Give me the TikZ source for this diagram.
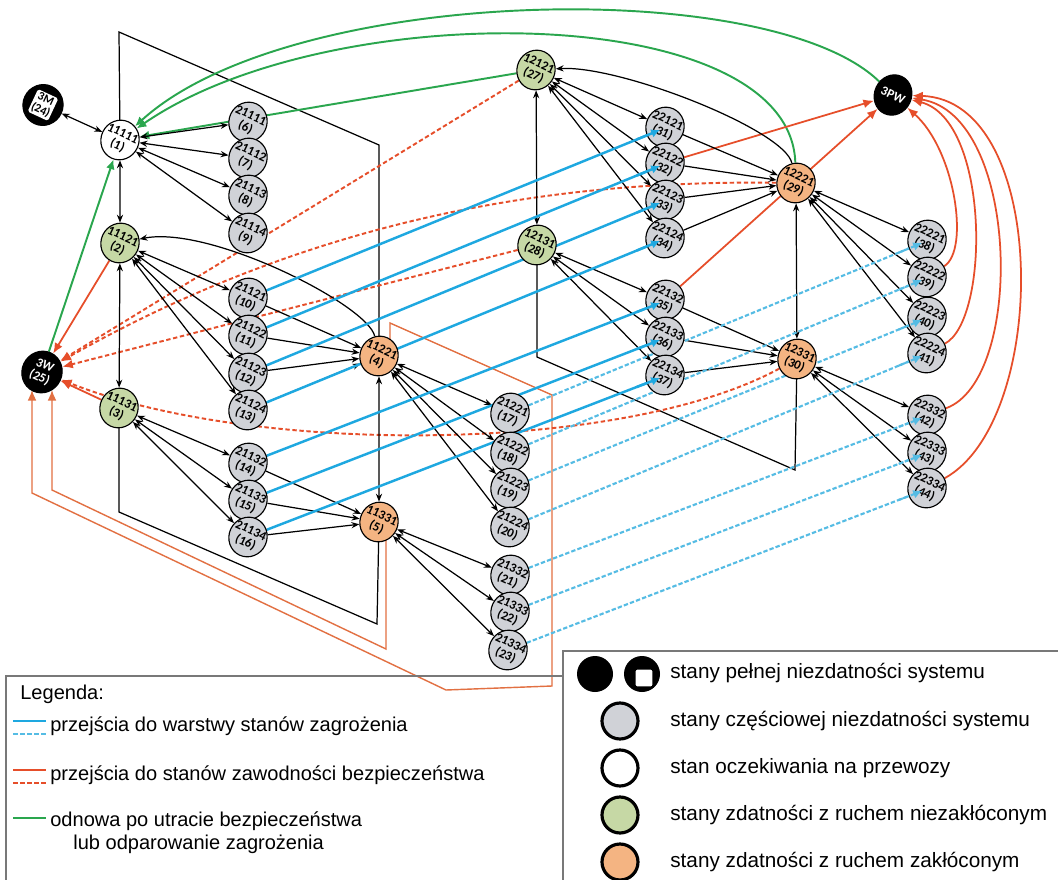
\documentclass[tikz,border=0pt]{standalone}
\usepackage{fontspec}
\setmainfont{Liberation Sans}
\newfontfamily\carl{Carlito}
\usetikzlibrary{shapes.geometric,arrows.meta,calc}
\pgfdeclarelayer{bg}
\pgfsetlayers{bg,main}
\definecolor{cgray}{RGB}{208,210,215}
\definecolor{cgreen}{RGB}{198,216,165}
\definecolor{corange}{RGB}{244,180,130}
\definecolor{cblue}{RGB}{30,168,224}
\definecolor{cblued}{RGB}{85,188,228}
\definecolor{cred}{RGB}{230,78,42}
\definecolor{cplane}{RGB}{226,112,66}
\definecolor{cgrn}{RGB}{42,166,78}
\definecolor{cframe}{RGB}{120,120,120}
\begin{document}
\begin{tikzpicture}[x=0.02cm,y=0.02cm,
 st/.style={ellipse, draw=black, line width=0.65pt, minimum width=0.76cm, minimum height=0.8cm, inner sep=-3pt, rotate=-25, font=\carl\bfseries\fontsize{7.3}{7.4}\selectfont, align=center},
 sg/.style={st, fill=cgray},
 sw/.style={st, fill=white},
 sgr/.style={st, fill=cgreen},
 so/.style={st, fill=corange},
 sb/.style={st, fill=black, text=white},
 bk/.style={line width=0.7pt, black},
 ba/.style={bk, {Stealth[length=4.5pt,width=3.5pt]}-{Stealth[length=4.5pt,width=3.5pt]}},
 bs/.style={bk, -{Stealth[length=4.5pt,width=3.5pt]}},
 plane/.style={line width=0.7pt, black},
 oplane/.style={line width=0.8pt, cplane, -{Latex[length=6pt,width=5pt]}},
 rs/.style={line width=1pt, cred, -{Latex[length=6pt,width=5pt]}},
 rd/.style={line width=1.1pt, cred, dash pattern=on 2.5pt off 1.5pt, -{Latex[length=6pt,width=5pt]}},
 gs/.style={line width=1.1pt, cgrn, -{Latex[length=5.5pt,width=5pt]}},
 bls/.style={line width=1.4pt, cblue},
 bld/.style={line width=1.2pt, cblued, dash pattern=on 2.5pt off 1.2pt},
 bltip/.style={-{Latex[length=5pt,width=5pt]}},
 legtxt/.style={anchor=west, inner sep=0pt, font=\fontsize{11.4}{13}\selectfont},
 legtxtr/.style={anchor=west, inner sep=0pt, font=\fontsize{11.8}{13}\selectfont},
]
\useasboundingbox (0,0) rectangle (1058,-879);

% ---- layer 1 nodes
\node[sw]  (n1) at (120,-140) {11111\\(1)};
\node[sgr] (n2) at (120,-243) {11121\\(2)};
\node[sgr] (n3) at (119,-408) {11131\\(3)};
\node[so]  (n4) at (379,-356) {11221\\(4)};
\node[so]  (n5) at (379,-522) {11331\\(5)};
\node[sg] (n6) at (248,-122) {21111\\(6)};
\node[sg] (n7) at (248,-158) {21112\\(7)};
\node[sg] (n8) at (248,-195) {21113\\(8)};
\node[sg] (n9) at (248,-233) {21114\\(9)};
\node[sg] (n10) at (248,-298) {21121\\(10)};
\node[sg] (n11) at (248,-335) {21122\\(11)};
\node[sg] (n12) at (248,-373) {21123\\(12)};
\node[sg] (n13) at (248,-410) {21124\\(13)};
\node[sg] (n14) at (248,-463) {21132\\(14)};
\node[sg] (n15) at (248,-500) {21133\\(15)};
\node[sg] (n16) at (248,-537) {21134\\(16)};
\node[sg] (n17) at (510,-413) {21221\\(17)};
\node[sg] (n18) at (510,-452) {21222\\(18)};
\node[sg] (n19) at (510,-488) {21223\\(19)};
\node[sg] (n20) at (510,-527) {21224\\(20)};
\node[sg] (n21) at (510,-575) {21332\\(21)};
\node[sg] (n22) at (510,-612) {21333\\(22)};
\node[sg] (n23) at (508,-650) {21334\\(23)};
% ---- absorbing states
\node[sb, minimum width=0.8cm, minimum height=0.82cm] (n24) at (43,-105) {};
\node[rotate=-25, fill=white, rounded corners=1pt, inner sep=0.8pt, text=black, align=center, font=\carl\bfseries\fontsize{6.8}{7}\selectfont] (n24t) at (n24.center) {3M\\(24)};
\node[sb, minimum width=0.8cm, minimum height=0.84cm] (n25) at (42,-372) {3W\\(25)};
\node[sb, minimum width=0.74cm, minimum height=0.82cm] (pw) at (893,-95) {3PW};
% ---- layer 2 nodes
\node[sgr] (n27) at (536,-70) {12121\\(27)};
\node[sgr] (n28) at (537,-245) {12131\\(28)};
\node[so]  (n29) at (796,-183) {12221\\(29)};
\node[so]  (n30) at (797,-359) {12331\\(30)};
\node[sg] (n31) at (665,-127) {22121\\(31)};
\node[sg] (n32) at (665,-163) {22122\\(32)};
\node[sg] (n33) at (665,-200) {22123\\(33)};
\node[sg] (n34) at (665,-238) {22124\\(34)};
\node[sg] (n35) at (665,-300) {22132\\(35)};
\node[sg] (n36) at (665,-337) {22133\\(36)};
\node[sg] (n37) at (665,-375) {22134\\(37)};
\node[sg] (n38) at (927,-240) {22221\\(38)};
\node[sg] (n39) at (927,-277) {22222\\(39)};
\node[sg] (n40) at (927,-317) {22223\\(40)};
\node[sg] (n41) at (927,-353) {22224\\(41)};
\node[sg] (n42) at (927,-415) {22332\\(42)};
\node[sg] (n43) at (927,-452) {22333\\(43)};
\node[sg] (n44) at (927,-488) {22334\\(44)};

\begin{pgfonlayer}{bg}
\fill[white] (0,0) rectangle (1058,-879);
% planes
\draw[plane] (n1.center) -- (119,-32) -- (379,-145) -- (n4.center);
\draw[plane] (n3.center) -- (119,-512) -- (377,-624) -- (n5.center);
\draw[plane] (n28.center) -- (537,-357) -- (795,-470) -- (n30.center);
% orange frame transitions to 3W
\draw[oplane] ($(n4)+(11,6)$) -- (390,-323) -- (552,-395) -- (552,-686) -- (446,-690) -- (32,-493) -- ($(n25)+(-10,-18)$);
\draw[oplane] ($(n5)+(7,-10)$) -- (386,-649) -- (52,-490) -- ($(n25)+(10,-18)$);
% green
\draw[gs] (pw) .. controls (770,25) and (290,15) .. (n1);
\draw[gs] (n29) .. controls (790,0) and (330,5) .. (n1);
\draw[gs] (n27) -- (n1);
\draw[gs] (n25) -- (n1);
% red solid
\draw[rs] (n2) -- (n25);
\draw[rs] (n3) -- (n25);
\draw[rs] (n32) -- (pw);
\draw[rs] (n35) -- (pw);
\draw[rs] (n39) .. controls (970,-250) and (955,-150) .. (pw);
\draw[rs] (n41) .. controls (990,-320) and (990,-120) .. (pw);
\draw[rs] (n42) .. controls (1025,-380) and (1020,-115) .. (pw);
\draw[rs] (n44) .. controls (1050,-420) and (1050,-100) .. (pw);
% red dashed
\draw[rd] (n27) -- (n25);
\draw[rd] (n29) .. controls (560,-180) and (320,-215) .. (n25);
\draw[rd] (n28) -- (n25);
\draw[rd] (n30) .. controls (620,-455) and (250,-455) .. (n25);
% black
\draw[ba] (n24) -- (n1);
\foreach \jj in {6,7,8,9} \draw[ba] (n1) -- (n\jj);
\draw[ba] (n1) -- (n2);
\draw[ba] (n2) -- (n3);
\foreach \jj in {10,...,13} \draw[ba] (n2) -- (n\jj);
\foreach \jj in {14,15,16} \draw[ba] (n3) -- (n\jj);
\foreach \ii in {10,...,13} \draw[bs] (n\ii) -- (n4);
\foreach \ii in {14,15,16} \draw[bs] (n\ii) -- (n5);
\draw[bs] (n4) .. controls (368,-305) and (210,-225) .. (n2);
\draw[ba] (n4) -- (n5);
\foreach \jj in {17,...,20} \draw[ba] (n4) -- (n\jj);
\foreach \jj in {21,22,23} \draw[ba] (n5) -- (n\jj);
\draw[ba] (n27) -- (n28);
\foreach \jj in {31,...,34} \draw[ba] (n27) -- (n\jj);
\foreach \jj in {35,36,37} \draw[ba] (n28) -- (n\jj);
\foreach \ii in {31,...,34} \draw[bs] (n\ii) -- (n29);
\foreach \ii in {35,36,37} \draw[bs] (n\ii) -- (n30);
\draw[bs] (n29) .. controls (785,-130) and (620,-65) .. (n27);
\draw[ba] (n29) -- (n30);
\foreach \jj in {38,...,41} \draw[ba] (n29) -- (n\jj);
\foreach \jj in {42,43,44} \draw[ba] (n30) -- (n\jj);
% blue (behind)
\foreach \ii/\jj in {10/31,11/32,12/33,13/34,14/35,15/36,16/37} {
  \coordinate (t\jj) at ($(n\jj)+(-5,-3)$);
  \draw[bls] (n\ii) -- (t\jj);
}
\foreach \ii/\jj in {17/38,18/39,19/40,20/41,21/42,22/43,23/44} {
  \coordinate (t\jj) at ($(n\jj)+(-5,-3)$);
  \draw[bld] (n\ii) -- (t\jj);
}
\end{pgfonlayer}
% blue arrow tips on top of target nodes
\foreach \ii/\jj in {10/31,11/32,12/33,13/34,14/35,15/36,16/37}
  \draw[bls,bltip] ($(t\jj)!0.5cm!(n\ii)$) -- (t\jj);
\foreach \ii/\jj in {17/38,18/39,19/40,20/41,21/42,22/43,23/44}
  \draw[bld,bltip] ($(t\jj)!0.5cm!(n\ii)$) -- (t\jj);

% ---- legend left
\draw[cframe, line width=0.9pt] (6,-900) -- (6,-676) -- (563,-676);
\node[legtxt] (lg) at (20,-694) {Legenda:};
\draw[cblue, line width=1.6pt] (13,-721) -- (46,-721);
\draw[cblued, line width=1.6pt, dash pattern=on 2.6pt off 1.4pt] (13,-734) -- (46,-734);
\node[legtxt] (l1) at (50,-726) {przejścia do warstwy stanów zagrożenia};
\draw[cred, line width=1.6pt] (13,-770) -- (46,-770);
\draw[cred, line width=1.6pt, dash pattern=on 2.6pt off 1.4pt] (13,-783) -- (46,-783);
\node[legtxt] (l2) at (50,-775) {przejścia do stanów zawodności bezpieczeństwa};
\draw[cgrn, line width=1.6pt] (13,-818) -- (46,-818);
\node[legtxt] (l3) at (50,-821) {odnowa po utracie bezpieczeństwa};
\node[legtxt] (l4) at (73,-844) {lub odparowanie zagrożenia};
% ---- legend right
\draw[cframe, line width=0.9pt, fill=white] (563,-900) -- (563,-651) -- (1100,-651) -- (1100,-900);
\fill[black] (595,-674) circle (18);
\fill[black] (642,-674) circle (18);
\node[draw=black, line width=1.2pt, fill=white, minimum size=0.38cm, rounded corners=1.5pt, inner sep=0pt] (sq) at (644,-678) {};
\draw[line width=1.8pt, fill=cgray] (620,-721) circle (18);
\draw[line width=1.8pt, fill=white] (620,-768) circle (18);
\draw[line width=1.8pt, fill=cgreen] (620,-815) circle (18);
\draw[line width=1.8pt, fill=corange] (620,-862) circle (18);
\node[legtxtr] (r1) at (670,-673) {stany pełnej niezdatności systemu};
\node[legtxtr] (r2) at (670,-721) {stany częściowej niezdatności systemu};
\node[legtxtr] (r3) at (670,-768) {stan oczekiwania na przewozy};
\node[legtxtr] (r4) at (670,-815) {stany zdatności z ruchem niezakłóconym};
\node[legtxtr] (r5) at (670,-862) {stany zdatności z ruchem zakłóconym};
\end{tikzpicture}
\end{document}
